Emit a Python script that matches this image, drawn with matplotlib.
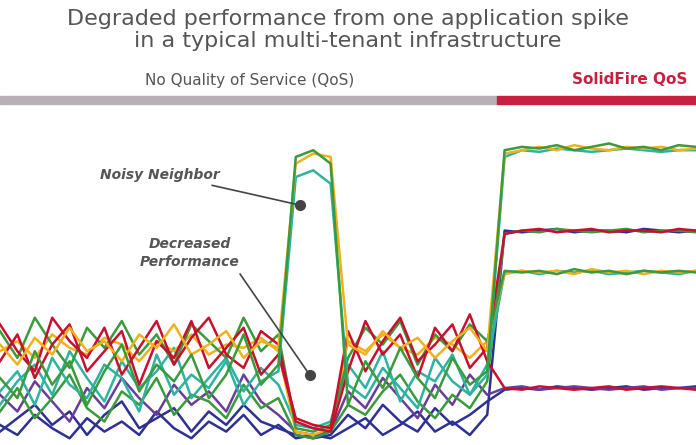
import numpy as np
import matplotlib
matplotlib.use("Agg")
import matplotlib.pyplot as plt
from matplotlib.patches import Rectangle

# x positions (0..100 across the panel), 41 samples
x = np.arange(41) * 2.5

green_top = [20,14,28,18,25,12,22,30,16,24,19,27,14,21,33,18,24, 86,88,84, 12,25,17,29,20,14,26,18,22, 88,89,88.5,89.5,88,89,90,88.5,89,88,89.5,89]
orange_top = [30,24,32,27,35,28,31,25,33,29,36,27,30,34,26,31,29, 84,87,86, 30,27,34,29,32,26,31,35,28, 87,88,89,88,89.5,88.5,88,89,88.5,89,88,88.5]
teal_top = [16,22,12,26,18,14,24,20,10,27,15,21,17,25,12,19,22, 80,82,78, 18,14,23,17,11,26,19,15,21, 86,88,87.5,88.5,88,87.5,88,88.5,88,87.5,88,88]
red_mid = [25,33,20,30,36,22,28,34,18,31,26,37,23,29,35,21,27, 8,6,5, 34,22,31,38,25,30,36,23,29, 63,64,64.5,63.5,64,64.5,63.5,64,64,63.5,64.5,64]
green_mid = [10,17,8,14,21,11,7,16,12,20,9,15,13,8,18,11,14, 3,2,4, 12,9,16,21,13,8,15,11,19, 63,64,63.5,64.5,64,63.5,64,64.5,63.5,64,64,63.5]
blue_mid = [6,3,9,5,2,8,4,7,3,10,5,2,7,4,9,3,6, 2,3,2, 5,8,3,6,10,4,7,3,9, 64,63.5,64,64.5,63.5,64,64,63.5,64.5,64,63.5,64]
orange_low = [28,31,26,33,29,27,32,30,25,31,28,33,27,30,29,32,28, 4,3,5, 31,28,33,29,27,32,30,26,31, 51,52,51.5,52,51,52.5,51.5,52,51,52,51.5,52]
green_low = [34,26,38,30,23,35,29,37,27,33,24,36,31,26,38,28,33, 5,4,6, 26,35,30,37,24,33,28,36,31, 52,51.5,52,51,52.5,51.5,52,51,52,51.5,52,51.5]
teal_low = [12,19,24,15,28,20,13,25,17,22,29,14,20,26,16,23,18, 6,5,7, 24,17,28,13,22,19,27,15,24, 51.5,52,51,52,51.5,52,51,51.5,52,51.5,51,52]
red_bot = [36,28,22,38,31,26,35,21,29,37,24,32,38,27,23,34,30, 7,5,4, 22,37,27,33,20,35,28,39,25, 17,16.5,17.5,17,16.5,17,17.5,16.5,17,17.5,17,16.5]
blue_bot = [4,8,12,6,10,3,9,13,5,8,11,4,10,6,12,7,5, 3,2,3, 9,5,12,7,4,11,6,9,13, 16.5,17,16.5,17.5,17,16.5,17,17.5,16.5,17,17,17.5]
purple_bot = [15,10,19,13,7,17,11,20,14,9,18,12,16,10,21,13,9, 4,3,4, 16,11,20,14,8,18,12,21,15, 17,17.5,16.5,17,17.5,17,16.5,17,17.5,16.5,17,17]

GREEN = "#3a9a3c"
ORANGE = "#f2b01e"
TEAL = "#2db3a0"
RED = "#c8102e"
BLUE = "#2e3192"
PURPLE = "#6a3d9a"

series = [
    (blue_mid, BLUE), (blue_bot, BLUE), (purple_bot, PURPLE),
    (green_mid, GREEN), (teal_low, TEAL), (orange_low, ORANGE),
    (green_low, GREEN), (red_bot, RED), (red_mid, RED),
    (teal_top, TEAL), (orange_top, ORANGE), (green_top, GREEN),
]

fig = plt.figure(figsize=(6.96, 4.45), dpi=100)
ax = fig.add_axes([0, 0, 1, 335 / 445])
for vals, c in series:
    ax.plot(x, vals, color=c, lw=1.8, solid_joinstyle="round")
ax.set_xlim(0, 100)
ax.set_ylim(0, 100)
ax.axis("off")

# annotations
ax.plot([43.1, 44.5], [71.6, 20.9], "o", color="#444444", ms=7, zorder=5)
ax.text(23, 80.6, "Noisy Neighbor", ha="center", va="center", fontsize=10,
        style="italic", fontweight="bold", color="#555555")
ax.plot([30.5, 43.1], [77.5, 71.6], color="#444444", lw=1.2, zorder=5)
ax.text(27.3, 57.3, "Decreased\nPerformance", ha="center", va="center", fontsize=10,
        style="italic", fontweight="bold", color="#555555", linespacing=1.3)
ax.plot([34.5, 44.5], [51, 20.9], color="#444444", lw=1.2, zorder=5)

# header bars and labels
fig.patches.append(Rectangle((0, 1 - 104 / 445), 497 / 696, 8 / 445,
                             transform=fig.transFigure, color="#b9afb6"))
fig.patches.append(Rectangle((497 / 696, 1 - 104 / 445), 199 / 696, 8 / 445,
                             transform=fig.transFigure, color="#c8203f"))
fig.text(250 / 696, 1 - 80 / 445, "No Quality of Service (QoS)", ha="center", va="center",
         fontsize=11, color="#555555")
fig.text(630 / 696, 1 - 80 / 445, "SolidFire QoS", ha="center", va="center",
         fontsize=11, fontweight="bold", color="#c8203f")
fig.text(0.5, 1 - 30 / 445, "Degraded performance from one application spike\nin a typical multi-tenant infrastructure",
         ha="center", va="center", fontsize=16, color="#555555", linespacing=1.1)

fig.savefig("out.png", dpi=100)
